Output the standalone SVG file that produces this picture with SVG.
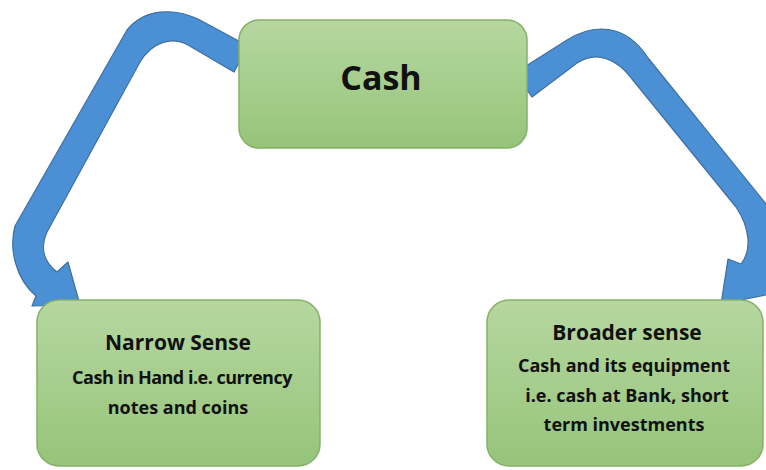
<svg xmlns="http://www.w3.org/2000/svg" width="766" height="470" viewBox="0 0 766 470">
  <defs>
    <linearGradient id="g" x1="0" y1="0" x2="0" y2="1">
      <stop offset="0" stop-color="#b6d7a0"/>
      <stop offset="1" stop-color="#96c47a"/>
    </linearGradient>
    <style>
      .box{fill:url(#g);stroke:#86b068;stroke-width:1.5}
      .arrow{fill:#4b8fd5;stroke:#3f6f9f;stroke-width:1.2;stroke-linejoin:round}
      text{font-family:"Open Sans","Liberation Sans",sans-serif;font-weight:bold;fill:#111;text-anchor:middle}
      .h{font-size:21px}
      .b{font-size:18px}
    </style>
  </defs>
  <rect width="766" height="470" fill="#ffffff"/>
  <g id="connectors">
    <path class="arrow" d="M248,46 L198,19 C174,8 145,8 127,30 L15,226 C9,248 15,278 36,296 L32,306 L80,305 L68,262 L57,272 C44,262 40,248 47,232 L140,62 C152,42 172,36 188,45 L234,72 Z"/>
    <path class="arrow" d="M515,73 L567,40 C592,24 625,22 648,58 L775,215 L790,290 L721,304 L728,259 L741,264 C752,250 750,228 736,207 L632,79 C617,59 597,50 577,63 L532,97 Z"/>
  </g>
  <g id="cash">
    <rect class="box" x="239" y="20" width="288" height="128" rx="20"/>
    <text x="381" y="90" style="font-size:34px">Cash</text>
  </g>
  <g id="narrow">
    <rect class="box" x="37" y="300" width="283" height="166" rx="22"/>
    <text class="h" x="178" y="350">Narrow Sense</text>
    <text class="b" x="182" y="384" style="letter-spacing:-0.5px">Cash in Hand i.e. currency</text>
    <text class="b" x="178" y="414">notes and coins</text>
  </g>
  <g id="broader">
    <rect class="box" x="487" y="300" width="276" height="166" rx="22"/>
    <text class="h" x="627" y="340">Broader sense</text>
    <text class="b" x="624" y="372">Cash and its equipment</text>
    <text class="b" x="627" y="402">i.e. cash at Bank, short</text>
    <text class="b" x="624" y="431">term investments</text>
  </g>
</svg>
